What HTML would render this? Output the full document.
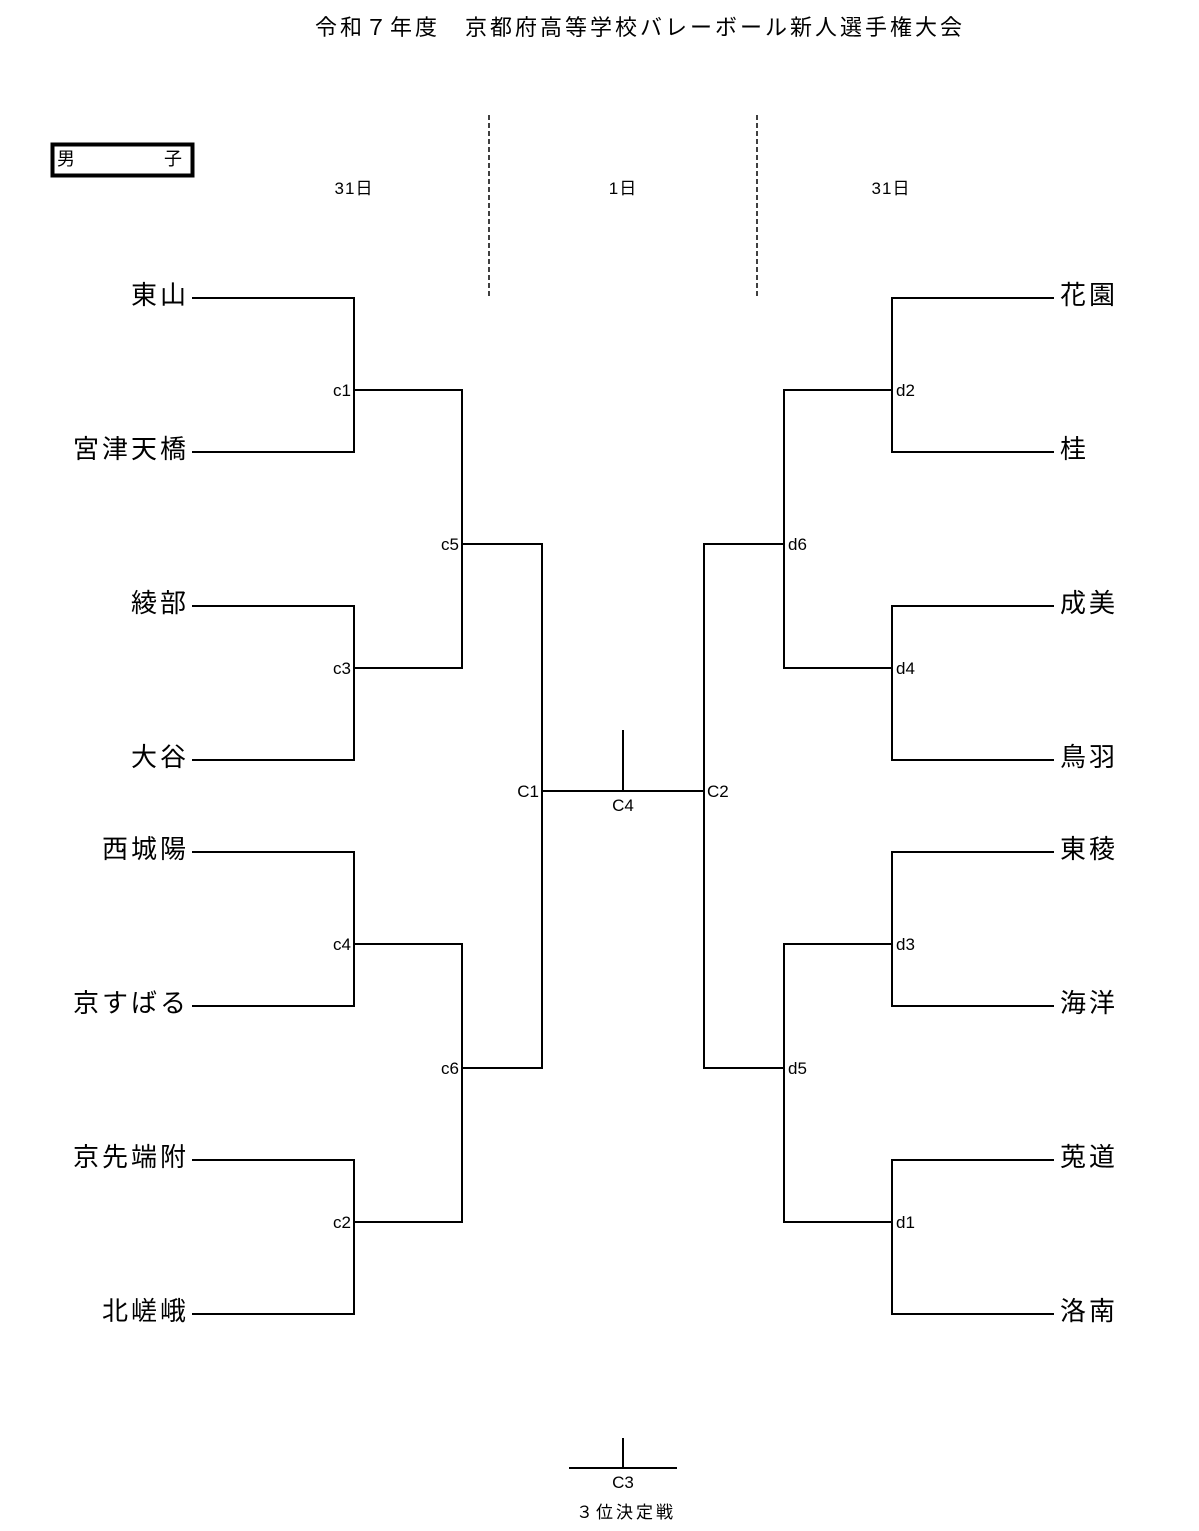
<!DOCTYPE html>
<html><head><meta charset="utf-8"><style>
body{margin:0;background:#fff}
svg{display:block}
text{font-family:"Liberation Sans","Noto Sans CJK JP",sans-serif;fill:#000}
</style></head><body>
<svg width="1199" height="1531" viewBox="0 0 1199 1531" xmlns="http://www.w3.org/2000/svg">
<text x="640" y="35" font-size="22" text-anchor="middle" letter-spacing="3">令和７年度　京都府高等学校バレーボール新人選手権大会</text>
<rect x="52.5" y="144.5" width="140" height="31" fill="none" stroke="#000" stroke-width="4"/>
<text x="57" y="165" font-size="18">男</text>
<text x="164" y="165" font-size="18">子</text>
<text x="354" y="194" font-size="17" text-anchor="middle" letter-spacing="1">31日</text>
<text x="623" y="194" font-size="17" text-anchor="middle" letter-spacing="1">1日</text>
<text x="891" y="194" font-size="17" text-anchor="middle" letter-spacing="1">31日</text>
<g stroke="#000" stroke-width="1.5" stroke-dasharray="5,3">
<line x1="489" y1="115" x2="489" y2="298"/><line x1="757" y1="115" x2="757" y2="298"/>
</g>
<g stroke="#000" stroke-width="2" fill="none">
<path d="M192 298H354V452H192M192 606H354V760H192M192 852H354V1006H192M192 1160H354V1314H192"/>
<path d="M354 390H462V668H354M354 944H462V1222H354"/>
<path d="M462 544H542V1068H462M542 791H704"/>
<path d="M623 730V791"/>
<path d="M1054 298H892V452H1054M1054 606H892V760H1054M1054 852H892V1006H1054M1054 1160H892V1314H1054"/>
<path d="M892 390H784V668H892M892 944H784V1222H892"/>
<path d="M784 544H704V1068H784"/>
<path d="M569 1468H677M623 1438V1468"/>
</g>
<g font-size="26" text-anchor="end" letter-spacing="3">
<text x="189" y="304">東山</text><text x="189" y="458">宮津天橋</text>
<text x="189" y="612">綾部</text><text x="189" y="766">大谷</text>
<text x="189" y="858">西城陽</text><text x="189" y="1012">京すばる</text>
<text x="189" y="1166">京先端附</text><text x="189" y="1320">北嵯峨</text>
</g>
<g font-size="26" letter-spacing="3">
<text x="1060" y="304">花園</text><text x="1060" y="458">桂</text>
<text x="1060" y="612">成美</text><text x="1060" y="766">鳥羽</text>
<text x="1060" y="858">東稜</text><text x="1060" y="1012">海洋</text>
<text x="1060" y="1166">莵道</text><text x="1060" y="1320">洛南</text>
</g>
<g font-size="17" text-anchor="end">
<text x="351" y="396">c1</text><text x="351" y="674">c3</text>
<text x="351" y="950">c4</text><text x="351" y="1228">c2</text>
<text x="459" y="550">c5</text><text x="459" y="1074">c6</text>
<text x="539" y="797">C1</text>
</g>
<g font-size="17">
<text x="896" y="396">d2</text><text x="896" y="674">d4</text>
<text x="896" y="950">d3</text><text x="896" y="1228">d1</text>
<text x="788" y="550">d6</text><text x="788" y="1074">d5</text>
<text x="707" y="797">C2</text>
</g>
<g font-size="17" text-anchor="middle">
<text x="623" y="811">C4</text>
<text x="623" y="1488">C3</text>
<text x="626" y="1518" letter-spacing="3">３位決定戦</text>
</g>
</svg>
</body></html>
